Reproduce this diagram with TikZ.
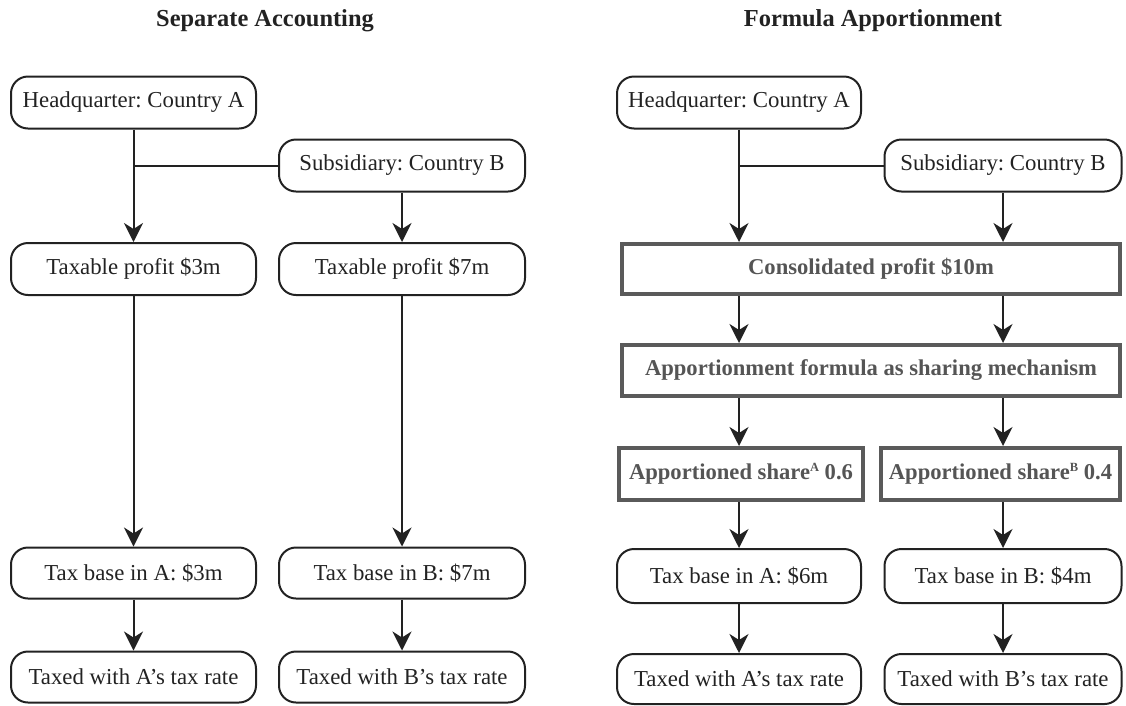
\documentclass[tikz,border=0pt]{standalone}
\usepackage{fontspec}
\setmainfont{Liberation Serif}
\usetikzlibrary{arrows.meta}
\definecolor{ink}{HTML}{222222}
\definecolor{gborder}{HTML}{5A5A5A}
\definecolor{gtext}{HTML}{555555}
\newcommand{\supx}[1]{\raisebox{7.5pt}{\fontsize{12.5}{13}\selectfont #1}}
\begin{document}
\frenchspacing
\begin{tikzpicture}[x=1pt,y=-1pt,
  rbox/.style={draw=ink, line width=2pt, rounded corners=17pt, inner sep=0pt, align=center,
    font=\fontsize{22.8}{27}\selectfont, text=ink},
  gbox/.style={draw=gborder, line width=4pt, inner sep=0pt, align=center,
    font=\fontsize{22.6}{27}\selectfont\bfseries, text=gtext},
  ttl/.style={font=\fontsize{24.4}{28}\selectfont\bfseries, text=ink, anchor=base},
  arr/.style={draw=ink, line width=2pt, -{Stealth[length=19pt,width=19pt,inset=6pt]}},
  ln/.style={draw=ink, line width=2pt}]
\useasboundingbox (0,0) rectangle (1126,705);

% titles
\node[ttl] (t1) at (265,26) {Separate Accounting};
\node[ttl] (t2) at (873,26) {Formula Apportionment};

% left: separate accounting
\node[rbox, minimum width=245pt, minimum height=52pt] (hqL) at (133.5,102.5) {Headquarter: Country A};
\node[rbox, minimum width=246pt, minimum height=52pt] (subL) at (402,165.5) {Subsidiary: Country B};
\node[rbox, minimum width=245pt, minimum height=52pt] (tpA) at (133.5,269) {Taxable profit \$3m};
\node[rbox, minimum width=246pt, minimum height=52pt] (tpB) at (402,269) {Taxable profit \$7m};
\node[rbox, minimum width=245pt, minimum height=51pt] (tbA) at (133.5,573) {Tax base in A: \$3m};
\node[rbox, minimum width=246pt, minimum height=51pt] (tbB) at (402,573) {Tax base in B: \$7m};
\node[rbox, minimum width=245pt, minimum height=51pt] (txA) at (133.5,677) {Taxed with A’s tax rate};
\node[rbox, minimum width=246pt, minimum height=51pt] (txB) at (402,677) {Taxed with B’s tax rate};

\draw[arr] (hqL.south) -- (tpA.north);
\draw[ln] (subL.west) -- (subL.west -| hqL.south);
\draw[arr] (subL.south) -- (tpB.north);
\draw[arr] (tpA.south) -- (tbA.north);
\draw[arr] (tpB.south) -- (tbB.north);
\draw[arr] (tbA.south) -- (txA.north);
\draw[arr] (tbB.south) -- (txB.north);

% right: formula apportionment
\node[rbox, minimum width=244pt, minimum height=52pt] (hqR) at (739,102.5) {Headquarter: Country A};
\node[rbox, minimum width=237pt, minimum height=52pt] (subR) at (1003,165.5) {Subsidiary: Country B};
\node[gbox, minimum width=498pt, minimum height=50pt] (cons) at (871,269) {Consolidated profit \$10m};
\node[gbox, minimum width=498pt, minimum height=51pt] (app) at (871,370.5) {Apportionment formula as sharing mechanism};
\node[gbox, minimum width=244pt, minimum height=52pt] (shA) at (741,474) {Apportioned share\supx{A} 0.6};
\node[gbox, minimum width=239pt, minimum height=52pt] (shB) at (1000.5,474) {Apportioned share\supx{B} 0.4};
\node[rbox, minimum width=244pt, minimum height=54pt] (tbA2) at (739,576) {Tax base in A: \$6m};
\node[rbox, minimum width=237pt, minimum height=54pt] (tbB2) at (1003,576) {Tax base in B: \$4m};
\node[rbox, minimum width=244pt, minimum height=50pt] (txA2) at (739,679) {Taxed with A’s tax rate};
\node[rbox, minimum width=237pt, minimum height=50pt] (txB2) at (1003,679) {Taxed with B’s tax rate};

\draw[arr] (hqR.south) -- (hqR.south |- cons.north);
\draw[ln] (subR.west) -- (subR.west -| hqR.south);
\draw[arr] (subR.south) -- (subR.south |- cons.north);
\draw[arr] (cons.south -| hqR.south) -- (app.north -| hqR.south);
\draw[arr] (cons.south -| subR.south) -- (app.north -| subR.south);
\draw[arr] (app.south -| hqR.south) -- (shA.north -| hqR.south);
\draw[arr] (app.south -| subR.south) -- (shB.north -| subR.south);
\draw[arr] (shA.south -| hqR.south) -- (tbA2.north);
\draw[arr] (shB.south -| subR.south) -- (tbB2.north);
\draw[arr] (tbA2.south) -- (txA2.north);
\draw[arr] (tbB2.south) -- (txB2.north);
\end{tikzpicture}
\end{document}
